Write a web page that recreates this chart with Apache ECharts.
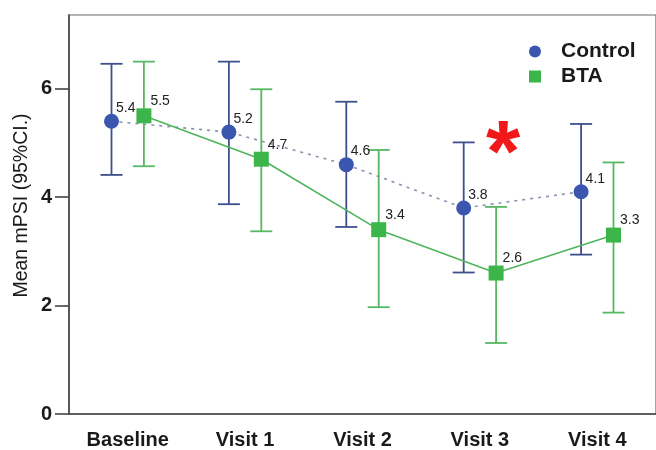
<!DOCTYPE html>
<html>
<head>
<meta charset="utf-8">
<script src="https://cdn.jsdelivr.net/npm/echarts@6/dist/echarts.min.js"></script>
<style>
  html, body { margin: 0; padding: 0; background: #fff; }
  #chart { width: 656px; height: 450px; }
</style>
</head>
<body>
<div id="chart"></div>
<script>
// Visits along the x axis
const categories = ['Baseline', 'Visit 1', 'Visit 2', 'Visit 3', 'Visit 4'];

// Control group: mean mPSI and 95% CI bounds
const controlMean = [5.4, 5.2, 4.6, 3.8, 4.1];
const controlLow  = [4.41, 3.87, 3.45, 2.61, 2.94];
const controlHigh = [6.46, 6.50, 5.76, 5.01, 5.35];

// BTA group: mean mPSI and 95% CI bounds
const btaMean = [5.5, 4.7, 3.4, 2.6, 3.3];
const btaLow  = [4.57, 3.37, 1.97, 1.31, 1.87];
const btaHigh = [6.50, 5.99, 4.87, 3.82, 4.64];

// Y-axis tick values
const yTicks = [0, 2, 4, 6];

const FONT = "'Liberation Sans', Arial, sans-serif";
const SHIFT = 0.138;           // horizontal dodge of the two groups
const CONTROL_FILL = '#3a56ae';
const CONTROL_BAR = '#3f4f8c';
const BTA_FILL = '#3cb64b';
const BTA_BAR = '#56b862';

function points(means, dx) {
  return means.map((v, i) => [i + dx, v]);
}
function ciRows(low, high, dx) {
  return low.map((lo, i) => [i + dx, lo, high[i]]);
}
function errorBar(color) {
  return function (params, api) {
    const x = api.value(0);
    const lo = api.coord([x, api.value(1)]);
    const hi = api.coord([x, api.value(2)]);
    const cap = 11;
    const style = { stroke: color, lineWidth: 1.8 };
    return {
      type: 'group',
      children: [
        { type: 'line', shape: { x1: lo[0], y1: lo[1], x2: hi[0], y2: hi[1] }, style },
        { type: 'line', shape: { x1: lo[0] - cap, y1: lo[1], x2: lo[0] + cap, y2: lo[1] }, style },
        { type: 'line', shape: { x1: hi[0] - cap, y1: hi[1], x2: hi[0] + cap, y2: hi[1] }, style }
      ]
    };
  };
}

const chart = echarts.init(document.getElementById('chart'), null, { renderer: 'canvas' });

chart.setOption({
  animation: false,
  backgroundColor: '#ffffff',
  textStyle: { fontFamily: FONT },
  grid: {
    left: 69, top: 15, width: 593, height: 400,
    show: true, borderColor: '#6a6a6a', borderWidth: 1.2, backgroundColor: 'transparent'
  },
  legend: {
    orient: 'vertical',
    left: 524, top: 36,
    itemWidth: 12, itemHeight: 12,
    itemGap: 4,
    textStyle: {
      fontFamily: FONT, fontSize: 21, fontWeight: 'bold', color: '#1a1a1a',
      padding: [0, 0, 0, 15]
    },
    data: [
      { name: 'Control', icon: 'circle' },
      { name: 'BTA', icon: 'rect' }
    ]
  },
  xAxis: [
    {
      type: 'category',
      data: categories,
      boundaryGap: true,
      axisLine: { onZero: false, lineStyle: { color: '#444', width: 1.6 } },
      axisTick: { alignWithLabel: true, length: 11, lineStyle: { color: '#444', width: 1.6 } },
      axisLabel: { fontFamily: FONT, fontSize: 20, fontWeight: 'bold', color: '#1a1a1a', margin: 16 },
      splitLine: { show: false }
    },
    {
      type: 'value',
      min: -0.5, max: 4.5,
      show: false
    }
  ],
  yAxis: {
    type: 'value',
    min: 0, max: 7.36,
    name: 'Mean mPSI (95%CI.)',
    nameLocation: 'middle',
    nameRotate: 90,
    nameGap: 37,
    nameMoveOverlap: false,
    nameTextStyle: { fontFamily: FONT, fontSize: 19.5, color: '#1a1a1a', padding: [0, 0, 0, 18] },
    axisLine: { show: true, onZero: false, lineStyle: { color: '#444', width: 1.6 } },
    axisTick: { show: true, length: 14, customValues: yTicks, lineStyle: { color: '#444', width: 1.6 } },
    axisLabel: { customValues: yTicks, fontFamily: FONT, fontSize: 20, fontWeight: 'bold', color: '#1a1a1a', margin: 17 },
    splitLine: { show: false }
  },
  series: [
    {
      name: 'Control CI',
      type: 'custom',
      xAxisIndex: 1,
      renderItem: errorBar(CONTROL_BAR),
      data: ciRows(controlLow, controlHigh, -SHIFT),
      z: 2
    },
    {
      name: 'BTA CI',
      type: 'custom',
      xAxisIndex: 1,
      renderItem: errorBar(BTA_BAR),
      data: ciRows(btaLow, btaHigh, SHIFT),
      z: 2
    },
    {
      name: 'Control',
      type: 'line',
      xAxisIndex: 1,
      data: points(controlMean, -SHIFT),
      symbol: 'circle',
      symbolSize: 15,
      itemStyle: { color: CONTROL_FILL },
      lineStyle: { color: '#8a90ad', width: 1.6, type: [3, 5] },
      label: {
        show: true, position: 'right', distance: 5, offset: [-8, -13],
        fontFamily: FONT, fontSize: 14, color: '#222'
      },
      z: 3
    },
    {
      name: 'BTA',
      type: 'line',
      xAxisIndex: 1,
      data: points(btaMean, SHIFT),
      symbol: 'rect',
      symbolSize: 15,
      itemStyle: { color: BTA_FILL },
      lineStyle: { color: '#4fb55b', width: 1.6 },
      label: {
        show: true, position: 'right', distance: 5, offset: [-6, -14.5],
        fontFamily: FONT, fontSize: 14, color: '#222'
      },
      z: 4
    }
  ],
  graphic: [
    {
      type: 'text',
      left: 486, top: 113,
      style: { text: '*', fontFamily: FONT, fontSize: 88, fontWeight: 'bold', fill: '#f01818' }
    }
  ]
});
</script>
</body>
</html>
